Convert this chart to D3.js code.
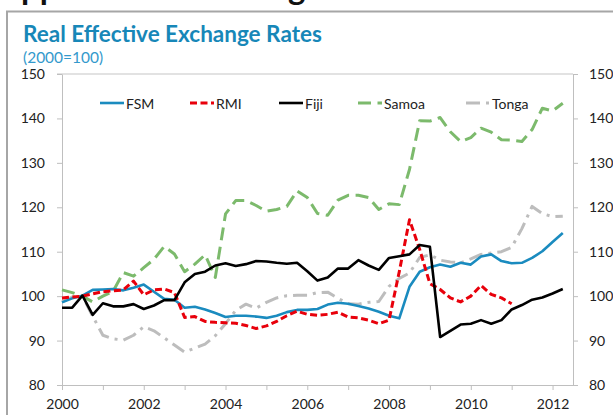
<!DOCTYPE html>
<meta charset="utf-8">
<style>
  body { margin: 0; background: #fff; }
  svg { display: block; font-family: Lato, "Open Sans", sans-serif; }
</style>
<body>
<script src="https://cdnjs.cloudflare.com/ajax/libs/d3/7.8.5/d3.min.js"></script>
<script>
// quarterly observations, 2000Q1 .. 2012Q2
var quarters = d3.range(50).map(function(i) { return 2000 + i / 4; });

var fsm = [98.6, 99.5, 100.1, 101.4, 101.5, 101.6, 101.3, 101.9, 102.6, 101.0,
           99.4, 99.2, 97.4, 97.6, 97.0, 96.2, 95.3, 95.6, 95.6, 95.4,
           95.1, 95.6, 96.4, 96.9, 96.9, 97.1, 98.1, 98.5, 98.3, 97.8,
           97.2, 96.5, 95.6, 95.0, 102.1, 105.5, 106.5, 107.1, 106.6, 107.5,
           107.1, 108.9, 109.4, 107.9, 107.4, 107.5, 108.6, 110.1, 112.2, 114.2];
var rmi = [99.6, 99.8, 100.0, 100.5, 101.0, 101.2, 101.4, 103.4, 100.3, 101.4,
           101.6, 100.8, 95.2, 95.4, 94.3, 94.1, 94.0, 93.9, 93.4, 92.7,
           93.3, 94.3, 95.6, 96.6, 95.9, 95.7, 95.9, 96.4, 95.3, 95.1,
           94.6, 93.8, 94.6, 105.5, 117.2, 110.5, 102.8, 101.5, 99.6, 98.7,
           100.0, 102.4, 100.4, 99.6, 98.3, null, null, null, null, null];
var fiji = [97.4, 97.4, 100.1, 95.8, 98.4, 97.7, 97.7, 98.2, 97.1, 97.9,
            99.1, 99.1, 103.1, 105.0, 105.5, 106.9, 107.4, 106.8, 107.2, 107.9,
            107.8, 107.5, 107.3, 107.5, 105.6, 103.5, 104.2, 106.2, 106.2, 108.1,
            106.9, 105.9, 108.6, 109.0, 109.4, 111.5, 111.1, 90.8, 92.2, 93.6,
            93.8, 94.6, 93.8, 94.6, 97.0, 98.0, 99.2, 99.7, 100.6, 101.6];
var samoa = [101.4, 100.8, 100.0, 98.7, 100.0, 101.1, 105.3, 104.5, 106.4, 108.3,
             111.2, 109.5, 105.5, 107.2, 109.3, 104.2, 118.5, 121.5, 121.5, 120.4,
             119.1, 119.5, 120.2, 123.7, 122.2, 118.6, 118.2, 121.6, 122.7, 122.7,
             122.2, 119.5, 120.8, 120.6, 128.5, 139.5, 139.4, 140.2, 137.0, 134.8,
             135.7, 137.8, 136.9, 135.2, 135.1, 134.8, 137.5, 142.3, 141.7, 143.4];
var tonga = [98.7, 99.8, 100.0, 95.5, 91.2, 90.4, 90.1, 91.2, 93.1, 92.2,
             90.6, 89.0, 87.4, 88.3, 89.2, 91.1, 93.8, 96.8, 98.2, 97.3,
             98.6, 99.6, 100.1, 100.2, 100.2, 100.8, 100.9, 99.5, 98.3, 98.2,
             98.6, 98.8, 102.2, 104.0, 105.2, 108.7, 109.3, 108.1, 107.7, 107.5,
             108.4, 109.4, 109.7, 110.0, 111.0, 115.2, 120.2, 118.6, 117.9, 118.0];

var seriesNames = ["FSM", "RMI", "Fiji", "Samoa", "Tonga"];
var seriesValues = [fsm, rmi, fiji, samoa, tonga];
var yTicks = [80, 90, 100, 110, 120, 130, 140, 150];
var yearTicks = d3.range(2000, 2013);

var styles = {
  FSM:   { color: "#1a8bbf", width: 2.6, dash: null },
  RMI:   { color: "#e8000b", width: 3,   dash: "7,3.5" },
  Fiji:  { color: "#000000", width: 2.6, dash: null },
  Samoa: { color: "#7cba6c", width: 3,   dash: "13,6.5" },
  Tonga: { color: "#bdbdbd", width: 3,   dash: "14,6,3,6" }
};

var width = 613, height = 415;
var svg = d3.select("body").append("svg")
  .attr("width", width)
  .attr("height", height);

// page heading above the chart box, mostly off the top edge
var head = svg.append("text")
  .attr("y", 0)
  .attr("font-size", 33)
  .attr("font-weight", "bold")
  .attr("fill", "#111")
  .text("Appendix");
head.attr("x", 21 - head.node().getSubStringLength(0, 1));
var head2 = svg.append("text")
  .attr("y", 0)
  .attr("font-size", 33)
  .attr("font-weight", "bold")
  .attr("fill", "#111")
  .text("Exchange");
head2.attr("x", 288 - head2.node().getSubStringLength(0, 6));

svg.append("path")
  .attr("d", "M7," + height + "V11.5H" + width)
  .attr("fill", "none")
  .attr("stroke", "#a6a6a6")
  .attr("stroke-width", 2);

svg.append("text")
  .attr("x", 23).attr("y", 41.5)
  .attr("font-size", 22.5)
  .attr("font-weight", "bold")
  .attr("fill", "#1787b8")
  .text("Real Effective Exchange Rates");
svg.append("text")
  .attr("x", 23).attr("y", 63)
  .attr("font-size", 15.5)
  .attr("fill", "#3399cc")
  .text("(2000=100)");

var x = d3.scaleLinear().domain([2000, 2012.5]).range([62, 573]);
var y = d3.scaleLinear().domain([80, 150]).range([385, 74]);

// top border line
svg.append("line")
  .attr("x1", 57).attr("x2", 573)
  .attr("y1", y(150)).attr("y2", y(150))
  .attr("stroke", "#d9d9d9").attr("stroke-width", 1.5);

function styleAxis(g) {
  g.selectAll("path").attr("stroke", "#bfbfbf");
  g.selectAll("line").attr("stroke", "#bfbfbf");
  g.selectAll("text").attr("fill", "#222").attr("font-size", 14).attr("font-family", "Lato, sans-serif");
}

svg.append("g")
  .attr("transform", "translate(62,0)")
  .call(d3.axisLeft(y).tickValues(yTicks).tickSize(5).tickSizeOuter(0).tickPadding(12))
  .call(styleAxis);

svg.append("g")
  .attr("transform", "translate(573,0)")
  .call(d3.axisRight(y).tickValues(yTicks).tickSize(5).tickSizeOuter(0).tickPadding(11))
  .call(styleAxis);

svg.append("g")
  .attr("transform", "translate(0,385)")
  .call(d3.axisBottom(x).tickValues(yearTicks).tickSize(5).tickSizeOuter(0).tickPadding(9)
    .tickFormat(function(d) { return d % 2 === 0 ? d : ""; }))
  .call(styleAxis);

// series
var line = d3.line()
  .defined(function(d) { return d != null; })
  .x(function(d, i) { return x(quarters[i]); })
  .y(function(d) { return y(d); });

// draw order: Samoa and Tonga under, then FSM, RMI, Fiji
var order = ["Samoa", "Tonga", "FSM", "RMI", "Fiji"];
order.forEach(function(name) {
  var s = styles[name];
  svg.append("path")
    .datum(seriesValues[seriesNames.indexOf(name)])
    .attr("d", line)
    .attr("fill", "none")
    .attr("stroke", s.color)
    .attr("stroke-width", s.width)
    .attr("stroke-dasharray", s.dash)
    .attr("stroke-linejoin", "round");
});

// legend
var legendX = [100, 190, 279, 358, 466];
var legend = svg.append("g");
seriesNames.forEach(function(name, i) {
  var s = styles[name];
  legend.append("line")
    .attr("x1", legendX[i]).attr("x2", legendX[i] + 24)
    .attr("y1", 103).attr("y2", 103)
    .attr("stroke", s.color)
    .attr("stroke-width", s.width)
    .attr("stroke-dasharray", s.dash);
  legend.append("text")
    .attr("x", legendX[i] + 26).attr("y", 108.5)
    .attr("font-size", 14)
    .attr("fill", "#222")
    .text(name);
});
</script>
</body>
